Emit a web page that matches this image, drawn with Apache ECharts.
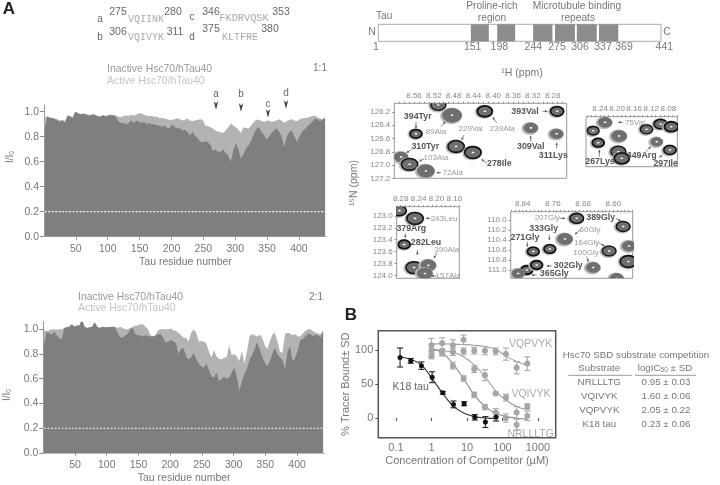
<!DOCTYPE html>
<html>
<head>
<meta charset="utf-8">
<title>Hsc70 / Tau</title>
<style>html,body{margin:0;padding:0;background:#fff}#main{width:720px;height:485px}</style>
<script src="https://cdn.jsdelivr.net/npm/echarts@6/dist/echarts.min.js"></script>
</head>
<body>
<div id="main"></div>
<script>
// panel A intensity ratios, one value every 4 residues from residue 1
var inactive11 = [.86,.96,.95,.95,.94,.93,.92,.93,.91,.97,.96,.95,1.0,.99,.98,.98,.98,.97,.97,.98,.97,.96,.96,.97,.96,.97,.97,.97,.96,.92,.91,.91,.90,.91,.93,.91,.93,.92,.91,.92,.90,.91,.90,.90,.89,.89,.88,.89,.87,
  .867,.90,.875,.867,.867,.85,.855,.84,.81,.84,.805,.79,.76,.755,.765,.755,.735,.685,.70,.68,.68,.70,.67,.65,.60,.69,.75,.70,.625,.66,.71,.73,.765,.82,.86,.875,.84,.815,.775,.80,.83,.85,.867,.84,.80,.72,.80,.84,.85,.80,.76,.80,.84,.86,.88,.90,.92,.945,.94,.925,.935,.945];
var active11 = [.95,.965,.955,.95,.945,.94,.93,.935,.925,.97,.965,.955,1.0,.99,.98,.985,.985,.975,.975,.98,.975,.965,.965,.975,.965,.975,.975,.975,.97,.96,.955,.965,.97,.965,.975,.97,.975,.99,.985,.975,.97,.965,.965,.96,.96,.95,.95,.945,.94,
  .933,.935,.94,.947,.94,.93,.935,.945,.93,.925,.93,.935,.94,.935,.89,.885,.875,.865,.85,.84,.835,.83,.85,.875,.905,.89,.875,.855,.83,.875,.87,.865,.89,.915,.935,.935,.925,.92,.925,.93,.915,.925,.93,.94,.925,.91,.925,.935,.94,.93,.925,.94,.945,.95,.95,.96,.965,.97,.955,.945,.94,.955];
var inactive21 = [.87,.975,.97,.955,.98,.95,.93,.915,1.01,1.015,1.02,1.04,1.02,1.03,1.03,1.08,1.02,1.01,1.015,1.02,1.055,1.02,1.01,1.02,1.015,1.015,1.015,1.02,1.015,.97,.935,.93,.95,.96,1.0,1.01,.96,.95,.95,.94,.95,.945,.94,.94,.95,.96,.96,.93,.89,.90,.915,.90,.89,.80,.84,.85,.78,.755,
  .77,.81,.76,.72,.70,.69,.72,.67,.62,.61,.65,.58,.60,.615,.60,.61,.65,.69,.62,.50,.58,.64,.68,.75,.79,.84,.895,.84,.78,.73,.70,.74,.80,.85,.80,.77,.75,.68,.82,.86,.74,.77,.83,.91,.92,.94,.965,.96,.945,.955,.95,.93,.98];
var active21 = [.99,.985,.99,1.0,1.0,.995,1.0,1.0,1.01,1.015,1.02,1.04,1.02,1.03,1.03,1.08,1.02,1.01,1.015,1.02,1.055,1.02,1.01,1.02,1.015,1.015,1.02,1.02,1.02,1.01,1.02,1.01,1.0,1.0,1.01,1.02,1.03,1.03,1.04,1.04,1.02,1.0,.95,.94,.95,.99,1.0,1.0,1.0,1.0,1.005,.99,.985,.97,.95,.93,.93,.90,
  .97,1.0,.97,.90,.905,.90,.885,.82,.77,.83,.78,.76,.755,.77,.77,.87,.79,.80,.78,.74,.825,.72,.82,.94,.96,.95,.94,.955,.93,.87,.84,.90,.955,.97,.90,.82,.81,.96,.97,.965,.95,.96,.94,.94,.965,.985,1.0,1.0,.985,.97,.965,.96,.99];
var residueTicks = [50,100,150,200,250,300,350,400];

// tau domains, residues as drawn
var domainStart = [145,186,242,276,310,344.5];
var domainEnd = [173,214,272,307,341,374.5];

// spectra: 1H, 15N, width, contour darkness
var peaks1 = [[8.511,126.094,.7,.6],[8.483,126.25,1,.1],[8.417,126.19,.7,1],[8.271,126.19,.55,.9],[8.556,126.53,.45,1],[8.324,126.44,.6,.2],[8.272,126.53,.55,.1],[8.475,126.72,.8,.8],[8.441,126.81,.8,.9],[8.586,126.88,.6,.1],[8.569,126.99,.8,.7],[8.536,127.09,.85,.1]];
var peaks2 = [[8.228,125.085,.6,.1],[8.256,125.21,.45,.6],[8.195,125.29,.7,.1],[8.244,125.39,.45,1],[8.197,125.525,.7,.5],[8.189,125.625,.7,1],[8.107,125.375,.45,.1],[8.131,125.19,.5,.6],[8.098,125.11,.55,.9],[8.073,125.15,.6,1],[8.076,125.5,.5,.8]];
var peaks3 = [[8.283,122.91,.6,.8],[8.248,123.04,.8,.8],[8.272,123.48,.45,.9],[8.25,123.87,.8,.7],[8.218,123.83,.7,.3],[8.226,123.97,.7,.2]];
var peaks4 = [[8.697,109.966,.6,.8],[8.574,110.13,.6,.6],[8.728,110.38,.7,.1],[8.768,110.58,.45,.8],[8.812,110.63,.45,.9],[8.611,110.62,.6,.5],[8.558,110.52,.6,.1],[8.56,110.83,.8,.9],[8.653,110.95,.6,.1],[8.829,111.0,.45,1],[8.803,110.9,.45,1],[8.852,111.07,.5,.1],[8.591,111.17,.6,.2]];

// competition assay: concentration, mean, SD
var concK18 = [.13,.26,.52,1.04,2.08,4.16,8.3,16.6,33,66];
var k18Mean = [89,84,77,60,37,20,21,1,-6,1.5];
var k18Sd = [14,3.5,5.5,8,2,5,3,4,8,6];
var concPep = [1,2,4,8,16,32,64,125,250,500];
var vqpMean = [107,110,107,115,99,99,98,94,74,80];
var vqpSd = [10,8,8,7,5,6,5,9,9,10];
var vqiMean = [100,96,97,98,72,63,36,30,8,17];
var vqiSd = [9,5,5,5,5,8,2,5,9,4];
var nrlMean = [91,96,77,58,34,16,8,0,-10,3];
var nrlSd = [4,4,5,4,4,4,6,6,8,7];
// fitted curves
var k18Fit = [90,86,78,58,36,17,7,2,0,-1];
var vqpFit = [109,109,108.5,108,107,105,101,91,83,77];
var vqiFit = [100,99,97,90,78,61,40,26,17,12];
var nrlFit = [102,96,80,58,34,17,7,2,0,-2];

var tableRows = [['NRLLLTG','0.95 ± 0.03'],['VQIVYK','1.60 ± 0.06'],['VQPVYK','2.05 ± 0.22'],['K18 tau','0.23 ± 0.06']];

var FONT = '"Liberation Sans", Arial, sans-serif';
var MONO = '"Liberation Mono", monospace';
var myChart = echarts.init(document.getElementById('main'));
var gfx = [];

function t(x, y, s, size, color, o) {
    o = o || {};
    gfx.push({
        type: 'text', x: x, y: y, rotation: o.rot || 0, z: 20,
        style: {
            text: s, fill: color, align: o.align || 'center', verticalAlign: 'middle',
            font: (o.bold ? 'bold ' : '') + size + 'px ' + (o.font || FONT), rich: o.rich
        }
    });
}
// little annotation arrow, given in zoomed picture coords (x offset 340)
function arrow(a, yOff) {
    var x1 = 340 + a[0] / 3, y1 = yOff + a[1] / 3, x2 = 340 + a[2] / 3, y2 = yOff + a[3] / 3;
    var ang = Math.atan2(y2 - y1, x2 - x1), h = 2.6;
    gfx.push({type: 'line', z: 19, shape: {x1: x1, y1: y1, x2: x2, y2: y2}, style: {stroke: '#666', lineWidth: 0.8}});
    gfx.push({type: 'polygon', z: 19, shape: {points: [[x2, y2],
        [x2 - h * Math.cos(ang - .5), y2 - h * Math.sin(ang - .5)],
        [x2 - h * Math.cos(ang + .5), y2 - h * Math.sin(ang + .5)]]}, style: {fill: '#555'}});
}
function chevron(x, y) {
    gfx.push({type: 'polygon', z: 19, shape: {points: [[x - 2.2, y - 4], [x, y - 1.6], [x + 2.2, y - 4], [x + .3, y + 4], [x - .3, y + 4]]}, style: {fill: '#444'}});
}

// ---- text of panel A
t(9, 9, 'A', 17, '#222', {bold: true});
t(100, 19, 'a', 10, '#666'); t(118, 12, '275', 10.5, '#666');
t(146, 19, 'VQIINK', 10, '#aaa', {font: MONO}); t(173, 12, '280', 10.5, '#666');
t(100, 37, 'b', 10, '#666'); t(118, 32, '306', 10.5, '#666');
t(146, 37.5, 'VQIVYK', 10, '#aaa', {font: MONO}); t(175, 32, '311', 10.5, '#666');
t(192, 17, 'c', 10, '#666'); t(211, 12, '346', 10.5, '#666');
t(244, 18, 'FKDRVQSK', 10.3, '#aaa', {font: MONO}); t(281, 12, '353', 10.5, '#666');
t(192, 37, 'd', 10, '#666'); t(211, 29, '375', 10.5, '#666');
t(240, 37, 'KLTFRE', 10, '#aaa', {font: MONO}); t(270, 29, '380', 10.5, '#666');

t(107, 69, 'Inactive Hsc70/hTau40', 10.4, '#999', {align: 'left'});
t(107, 81, 'Active Hsc70/hTau40', 10.4, '#c4c4c4', {align: 'left'});
t(320, 68, '1:1', 10, '#777');
t(78, 297, 'Inactive Hsc70/hTau40', 10.4, '#999', {align: 'left'});
t(78, 308, 'Active Hsc70/hTau40', 10.4, '#c4c4c4', {align: 'left'});
t(316, 297, '2:1', 10, '#777');
t(216, 94, 'a', 10, '#666'); chevron(216, 105);
t(241, 94, 'b', 10, '#666'); chevron(241, 107);
t(268, 104, 'c', 10, '#666'); chevron(268, 113);
t(286, 93, 'd', 10, '#666'); chevron(286, 104);
var ii0 = {sub: {fontSize: 6.5, verticalAlign: 'bottom', fill: '#777', padding: [5, 0, 0, 0]}};
t(10, 157, 'I/I{sub|0}', 10, '#777', {rot: Math.PI / 2, rich: ii0});
t(7, 395, 'I/I{sub|0}', 10, '#777', {rot: Math.PI / 2, rich: ii0});

// ---- tau diagram labels
t(376, 16, 'Tau', 10.2, '#777', {align: 'left'});
t(492, 6, 'Proline-rich', 10.2, '#777'); t(492, 18, 'region', 10.2, '#777');
t(577, 6, 'Microtubule binding', 10.2, '#777'); t(578, 18, 'repeats', 10.2, '#777');
t(372, 32, 'N', 10.5, '#777'); t(667, 32, 'C', 10.5, '#777');
var domainLabels = ['1','151','198','244','275','306','337','369','441'];
var domainLabelX = [376,472.7,499.3,533.3,557,580,603,624,664.3];
domainLabels.forEach(function (s, i) { t(domainLabelX[i], 46.7, s, 10.5, '#777'); });

// ---- spectra labels
t(522, 73, '¹H (ppm)', 10.5, '#777');
t(354, 183, '¹⁵N (ppm)', 10.5, '#777', {rot: Math.PI / 2});
var peakLabels = [
    ['394Tyr',417.7,116.7,1],['89Ala',436,132,0],['229Val',470.7,128.7,0],['239Ala',502.3,129,0],['393Val',525,111.3,1],
    ['309Val',530.7,146.7,1],['311Lys',553.3,155.7,1],['310Tyr',425.3,147,1],['103Ala',436,157.7,0],['278Ile',499.3,164,1],['72Ala',452.7,172.7,0],
    ['75Val',635,122.3,0],['267Lys',600,162,1],['349Arg',641.7,156,1],['297Ile',665.7,163.7,1],
    ['243Leu',444,218.3,0],['379Arg',411.3,228.7,1],['282Leu',426,242.7,1],['390Ala',446.7,250,0],['157Ala',448,276,0],
    ['207Gly',547.3,217.7,0],['389Gly',600.7,217.7,1],['333Gly',543.7,229,1],['60Gly',590,230,0],['271Gly',525,237.3,1],
    ['164Gly',586.7,242.3,0],['100Gly',586,253,0],['302Gly',568.3,265.3,1],['365Gly',554.3,273.3,1]
];
var upperArrows = [[228,365,228,385],[303,380,316,365],[372,405,365,420],[470,368,458,352],[572,425,572,408],[650,445,650,428],[215,448,200,458],[252,476,238,484],[440,490,425,478],[303,518,290,518],[608,334,622,334],[850,367,835,367],[778,470,778,450],[918,455,932,440],[968,465,958,472]];
var lowerArrows = [[272,85,258,85],[196,130,196,143],[232,180,232,195],[290,188,282,205],[290,258,275,258],[660,85,675,85],[828,85,842,92],[628,135,628,150],[720,120,705,133],[562,155,562,170],[778,160,793,167],[740,200,745,215],[635,228,620,228],[590,255,575,255]];
upperArrows.forEach(function (a) { arrow(a, 0); });
lowerArrows.forEach(function (a) { arrow(a, 190); });
peakLabels.forEach(function (p) {
    t(p[1], p[2], p[0], p[3] ? 8.8 : 8, p[3] ? '#555' : '#999', {bold: !!p[3]});
});

// ---- panel B text and table
t(351, 315, 'B', 17, '#222', {bold: true});
t(410.7, 386.7, 'K18 tau', 10.5, '#666');
t(530.7, 344, 'VQPVYK', 10.5, '#aaa');
t(531, 394, 'VQIVYK', 10.5, '#aaa');
t(530.7, 434, 'NRLLLTG', 10.5, '#aaa');
t(636, 355.7, 'Hsc70 SBD substrate competition', 9.8, '#777');
t(599.3, 368.3, 'Substrate', 9.8, '#777');
t(665, 368, 'logIC{sub|50} ± SD', 9.8, '#777', {rich: {sub: {fontSize: 6.5, fill: '#777', padding: [5, 0, 0, 0]}}});
gfx.push({type: 'line', shape: {x1: 568.3, y1: 375.3, x2: 631.7, y2: 375.3}, style: {stroke: '#999', lineWidth: 1}});
gfx.push({type: 'line', shape: {x1: 635, y1: 375.3, x2: 696, y2: 375.3}, style: {stroke: '#999', lineWidth: 1}});
var rowY = [382.7,396.7,410.7,424];
tableRows.forEach(function (r, i) {
    t(599.3, rowY[i], r[0], 9.8, '#777');
    t(666, rowY[i], r[1], 9.8, '#777');
});

// ---- helpers for series
function residues(arr) { return arr.map(function (v, i) { return [1 + 4 * i, v]; }); }
function area(name, vals, color, g, z) {
    return {
        name: name, type: 'line', xAxisIndex: g, yAxisIndex: g, data: residues(vals), z: z,
        showSymbol: false, lineStyle: {width: 0}, areaStyle: {color: color, opacity: 1}, silent: true, animation: false
    };
}
function cutoff(g) {
    return {
        type: 'line', xAxisIndex: g, yAxisIndex: g, data: [[1, .2], [441, .2]], z: 5, showSymbol: false, silent: true, animation: false,
        lineStyle: {color: '#eee', width: 1.2, type: [2, 1.5]}
    };
}
function peakSeries(data, g) {
    return {
        type: 'custom', xAxisIndex: g, yAxisIndex: g, data: data, clip: true, silent: true, animation: false,
        encode: {x: 0, y: 1},
        renderItem: function (params, api) {
            var c = api.coord([api.value(0), api.value(1)]);
            var rx = 3 + 6.5 * api.value(2), ry = rx * .72, dark = api.value(3);
            return {
                type: 'group',
                children: [
                    {type: 'ellipse', shape: {cx: c[0] - 1, cy: c[1] + .5, rx: rx + 1.5, ry: ry + 1.5}, style: {fill: '#bbb'}},
                    {type: 'ellipse', shape: {cx: c[0], cy: c[1], rx: rx, ry: ry},
                        style: {fill: '#6f6f6f', stroke: dark > .3 ? '#111' : '#666', lineWidth: dark > .3 ? .8 + dark : .6}},
                    {type: 'ellipse', shape: {cx: c[0], cy: c[1], rx: 1.4, ry: .8}, style: {fill: '#fff'}}
                ]
            };
        }
    };
}
function errorSeries(x, mean, sd, color, g) {
    return {
        type: 'custom', xAxisIndex: g, yAxisIndex: g, silent: true, animation: false, z: 4,
        data: x.map(function (c, i) { return [c, mean[i], sd[i]]; }),
        encode: {x: 0, y: 1},
        renderItem: function (params, api) {
            var hi = api.coord([api.value(0), api.value(1) + api.value(2)]);
            var lo = api.coord([api.value(0), api.value(1) - api.value(2)]);
            var s = {stroke: color, lineWidth: 1.1};
            return {
                type: 'group',
                children: [
                    {type: 'line', shape: {x1: hi[0], y1: hi[1], x2: lo[0], y2: lo[1]}, style: s},
                    {type: 'line', shape: {x1: hi[0] - 3, y1: hi[1], x2: hi[0] + 3, y2: hi[1]}, style: s},
                    {type: 'line', shape: {x1: lo[0] - 3, y1: lo[1], x2: lo[0] + 3, y2: lo[1]}, style: s}
                ]
            };
        }
    };
}
function dots(x, mean, color, size, g) {
    return {
        type: 'scatter', xAxisIndex: g, yAxisIndex: g, symbolSize: size, z: 5, silent: true, animation: false,
        itemStyle: {color: color, opacity: 1}, data: x.map(function (c, i) { return [c, mean[i]]; })
    };
}
function fit(x, vals, color, g) {
    return {
        type: 'line', smooth: .4, xAxisIndex: g, yAxisIndex: g, showSymbol: false, z: 3, silent: true, animation: false,
        lineStyle: {color: color, width: 1.1}, data: x.map(function (c, i) { return [c, vals[i]]; })
    };
}
function ppmTicks(a, b, step) {
    var out = [];
    for (var k = Math.ceil(a / step); k * step <= b + 1e-6; k++) out.push(+(k * step).toFixed(2));
    return out;
}

var axisText = {color: '#777', fontSize: 10.5, fontFamily: FONT};
var smallText = {color: '#888', fontSize: 8, fontFamily: FONT};

function residueX(g) {
    return {
        gridIndex: g, type: 'value', min: 0, max: 444, splitLine: {show: false},
        axisLine: {lineStyle: {color: '#bbb'}}, axisTick: {length: 3, lineStyle: {color: '#999'}, customValues: residueTicks},
        axisLabel: Object.assign({margin: 7, customValues: residueTicks}, axisText),
        name: 'Tau residue number', nameLocation: 'middle', nameGap: 20, nameTextStyle: axisText
    };
}
function ratioY(g, max) {
    return {
        gridIndex: g, type: 'value', min: 0, max: max, splitLine: {show: false},
        axisLine: {show: true, lineStyle: {color: '#999'}}, axisTick: {length: 4, lineStyle: {color: '#888'}, customValues: [0, .2, .4, .6, .8, 1]},
        axisLabel: Object.assign({margin: 5, customValues: [0, .2, .4, .6, .8, 1], formatter: function (v) { return v.toFixed(1); }}, axisText)
    };
}
function ppmX(g, lo, hi, labels) {
    return {
        gridIndex: g, type: 'value', inverse: true, position: 'top', min: lo, max: hi, splitLine: {show: false},
        axisLine: {show: false}, axisTick: {length: 1.5, lineStyle: {color: '#888'}, customValues: ppmTicks(lo, hi, .01)},
        axisLabel: Object.assign({margin: 4, customValues: labels, formatter: function (v) { return v.toFixed(2); }}, smallText)
    };
}
function ppmY(g, lo, hi, labels) {
    var hasLabels = labels.length > 0;
    return {
        gridIndex: g, type: 'value', inverse: true, min: lo, max: hi, splitLine: {show: false},
        axisLine: {show: false}, axisTick: {show: hasLabels, length: 2, lineStyle: {color: '#888'}, customValues: labels},
        axisLabel: Object.assign({show: hasLabels, margin: 4, customValues: labels, formatter: function (v) { return v.toFixed(1); }}, smallText)
    };
}

var spectrumBox = {show: true, backgroundColor: '#fff', borderColor: '#999', borderWidth: 1};

option = {
    animation: false,
    backgroundColor: '#fff',
    graphic: {elements: gfx},
    grid: [
        {left: 44, top: 105, width: 283, height: 131.7},
        {left: 43.3, top: 321.7, width: 281.7, height: 132.3},
        {left: 378.3, top: 24.3, width: 282.7, height: 17, show: true, backgroundColor: '#fff', borderColor: '#aaa', borderWidth: 1},
        Object.assign({left: 394.3, top: 103.3, width: 172.4, height: 75}, spectrumBox),
        Object.assign({left: 586, top: 116.7, width: 91.3, height: 50}, spectrumBox),
        Object.assign({left: 396.7, top: 206.7, width: 62.6, height: 71.6}, spectrumBox),
        Object.assign({left: 510.7, top: 211.7, width: 122, height: 66.6}, spectrumBox),
        {left: 378.3, top: 330.7, width: 177.4, height: 107, show: true, borderColor: '#555', borderWidth: 1.5}
    ],
    xAxis: [
        residueX(0),
        residueX(1),
        {gridIndex: 2, type: 'value', min: 1, max: 441, show: false},
        ppmX(3, 8.2517, 8.5998, [8.28,8.32,8.36,8.40,8.44,8.48,8.52,8.56]),
        ppmX(4, 8.0589, 8.2728, [8.08,8.12,8.16,8.20,8.24]),
        ppmX(5, 8.1488, 8.289, [8.16,8.20,8.24,8.28]),
        ppmX(6, 8.5486, 8.8718, [8.60,8.68,8.76,8.84]),
        {
            gridIndex: 7, type: 'log', logBase: 10, min: .0317, max: 3155, splitLine: {show: false},
            axisLine: {show: false}, axisTick: {length: 3, lineStyle: {color: '#555'}, customValues: [.1,1,10,100,1000]},
            axisLabel: {customValues: [.1,1,10,100,1000], color: '#777', fontSize: 11, margin: 5, fontFamily: FONT, formatter: function (v) { return String(v); }},
            name: 'Concentration of Competitor (µM)', nameLocation: 'middle', nameGap: 18,
            nameTextStyle: {color: '#777', fontSize: 11, fontFamily: FONT}
        }
    ],
    yAxis: [
        ratioY(0, 1.053),
        ratioY(1, 1.06),
        {gridIndex: 2, type: 'value', min: 0, max: 1, show: false},
        ppmY(3, 126.069, 127.2, [126.2,126.4,126.6,126.8,127.0,127.2]),
        ppmY(4, 125, 125.75, []),
        ppmY(5, 122.843, 124.05, [123.0,123.2,123.4,123.6,123.8,124.0]),
        ppmY(6, 109.834, 111.166, [110.0,110.2,110.4,110.6,110.8,111.0]),
        {
            gridIndex: 7, type: 'value', min: -29, max: 128.4, splitLine: {show: false}, axisLine: {show: false},
            axisTick: {length: 3, lineStyle: {color: '#555'}, customValues: [0, 50, 100]},
            axisLabel: {customValues: [0, 50, 100], color: '#777', fontSize: 11, margin: 5, fontFamily: FONT},
            name: '% Tracer Bound± SD', nameLocation: 'middle', nameGap: 17,
            nameTextStyle: {color: '#777', fontSize: 11, fontFamily: FONT}
        }
    ],
    series: [
        area('Active Hsc70/hTau40', active11, '#b3b3b3', 0, 2),
        area('Inactive Hsc70/hTau40', inactive11, '#7f7f7f', 0, 3),
        cutoff(0),
        area('Active Hsc70/hTau40', active21, '#b3b3b3', 1, 2),
        area('Inactive Hsc70/hTau40', inactive21, '#7f7f7f', 1, 3),
        cutoff(1),
        {
            type: 'custom', xAxisIndex: 2, yAxisIndex: 2, silent: true, animation: false,
            data: domainStart.map(function (s, i) { return [s, domainEnd[i]]; }),
            encode: {x: [0, 1]},
            renderItem: function (params, api) {
                var a = api.coord([api.value(0), 0]), b = api.coord([api.value(1), 1]);
                return {type: 'rect', shape: {x: a[0], y: b[1], width: b[0] - a[0], height: a[1] - b[1]}, style: {fill: '#8c8c8c'}};
            }
        },
        peakSeries(peaks1, 3), peakSeries(peaks2, 4), peakSeries(peaks3, 5), peakSeries(peaks4, 6),
        fit(concPep, vqpFit, '#a0a0a0', 7), fit(concPep, vqiFit, '#a0a0a0', 7), fit(concPep, nrlFit, '#8c8c8c', 7), fit(concK18, k18Fit, '#333', 7),
        errorSeries(concPep, vqpMean, vqpSd, '#aaa', 7), errorSeries(concPep, vqiMean, vqiSd, '#aaa', 7), errorSeries(concPep, nrlMean, nrlSd, '#aaa', 7),
        errorSeries(concK18, k18Mean, k18Sd, '#222', 7),
        dots(concPep, vqpMean, '#a6a6a6', 6, 7), dots(concPep, vqiMean, '#a6a6a6', 6, 7), dots(concPep, nrlMean, '#a6a6a6', 6, 7),
        dots(concK18, k18Mean, '#111', 5, 7)
    ]
};
myChart.setOption(option);
</script>
</body>
</html>
